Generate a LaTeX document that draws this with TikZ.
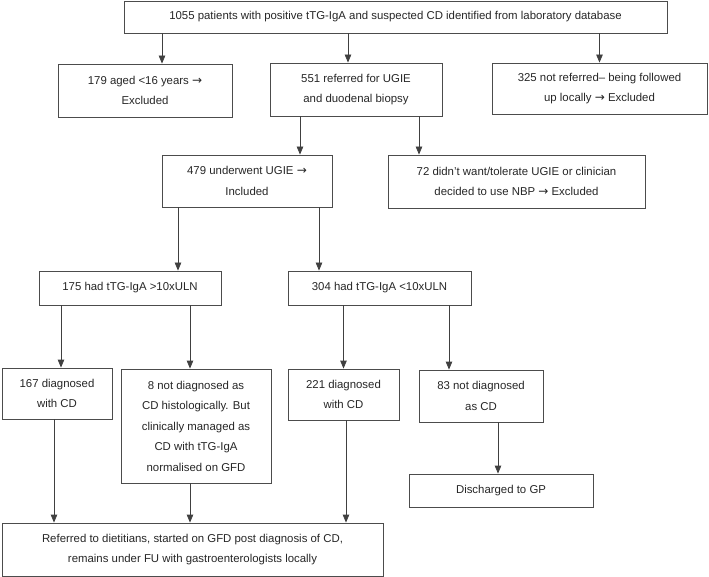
\documentclass[tikz,border=0pt]{standalone}
\usepackage{fontspec}
\setmainfont{Liberation Sans}
\newfontfamily\arrowfont{DejaVu Sans}
\newcommand{\toarrow}{{\arrowfont\fontsize{12}{20}\selectfont →}}
\usetikzlibrary{arrows.meta}

\begin{document}
\begin{tikzpicture}[x=1pt,y=-1pt,
    box/.style={draw=black!70,line width=0.8pt,align=center,inner sep=2pt,
      font=\fontsize{11.4}{20.5}\selectfont,text=black!85},
    >={Triangle[length=8pt,width=6.5pt]},
    arr/.style={->,draw=black!75,line width=0.8pt}]

\useasboundingbox (0,0) rectangle (709,577);

\node[box,minimum width=543pt,minimum height=32pt] (top) at (395.5,17)
  {1055 patients with positive tTG-IgA and suspected CD identified from laboratory database};
\node[box,minimum width=174pt,minimum height=53pt] (n179) at (145,90.5)
  {179 aged <16 years \toarrow\\Excluded};
\node[box,minimum width=172pt,minimum height=53pt] (n551) at (356,89.5)
  {551 referred for UGIE\\and duodenal biopsy};
\node[box,minimum width=215pt,minimum height=51pt] (n325) at (599.5,88.5)
  {325 not referred– being followed\\up locally \toarrow\ Excluded};
\node[box,minimum width=170pt,minimum height=52pt] (n479) at (247,181)
  {479 underwent UGIE \toarrow\\Included};
\node[box,minimum width=257pt,minimum height=53pt] (n72) at (516.5,181.5)
  {72 didn’t want/tolerate UGIE or clinician\\decided to use NBP \toarrow\ Excluded};
\node[box,minimum width=182pt,minimum height=34pt] (n175) at (130,288)
  {175 had tTG-IgA >10xULN};
\node[box,minimum width=183pt,minimum height=34pt] (n304) at (379.5,288)
  {304 had tTG-IgA <10xULN};
\node[box,minimum width=110pt,minimum height=51pt] (n167) at (57,393.5)
  {167 diagnosed\\with CD};
\node[box,minimum width=150pt,minimum height=114pt] (n8) at (196,426)
  {8 not diagnosed as\\CD histologically. But\\clinically managed as\\CD with tTG-IgA\\normalised on GFD};
\node[box,minimum width=111pt,minimum height=51pt] (n221) at (343.5,394.5)
  {221 diagnosed\\with CD};
\node[box,minimum width=124pt,minimum height=52pt] (n83) at (481,396)
  {83 not diagnosed\\as CD};
\node[box,minimum width=184pt,minimum height=33pt] (gp) at (501,490.5)
  {Discharged to GP};
\node[box,minimum width=381pt,minimum height=53pt] (ref) at (192.5,549.5)
  {Referred to dietitians, started on GFD post diagnosis of CD,\\remains under FU with gastroenterologists locally};

% From the top box
\draw[arr] ([xshift=17pt]n179.north |- top.south) -- ([xshift=17pt]n179.north);
\draw[arr] ([xshift=-8pt]n551.north |- top.south) -- ([xshift=-8pt]n551.north);
\draw[arr] (n325.north |- top.south) -- (n325.north);

% From 551
\draw[arr] ([xshift=53pt]n479.north |- n551.south) -- ([xshift=53pt]n479.north);
\draw[arr] ([xshift=-97.5pt]n72.north |- n551.south) -- ([xshift=-97.5pt]n72.north);

% From 479
\draw[arr] ([xshift=48pt]n175.north |- n479.south) -- ([xshift=48pt]n175.north);
\draw[arr] ([xshift=-60.5pt]n304.north |- n479.south) -- ([xshift=-60.5pt]n304.north);

% From 175 and 304
\draw[arr] ([xshift=4pt]n167.north |- n175.south) -- ([xshift=4pt]n167.north);
\draw[arr] ([xshift=-6pt]n8.north |- n175.south) -- ([xshift=-6pt]n8.north);
\draw[arr] (n221.north |- n304.south) -- (n221.north);
\draw[arr] ([xshift=-32pt]n83.north |- n304.south) -- ([xshift=-32pt]n83.north);

% Down to the last boxes
\draw[arr] ([xshift=-3pt]gp.north |- n83.south) -- ([xshift=-3pt]gp.north);
\draw[arr] ([xshift=-3pt]n167.south) -- ([xshift=-3pt]n167.south |- ref.north);
\draw[arr] ([xshift=-6pt]n8.south) -- ([xshift=-6pt]n8.south |- ref.north);
\draw[arr] ([xshift=2.5pt]n221.south) -- ([xshift=2.5pt]n221.south |- ref.north);

\end{tikzpicture}
\end{document}
